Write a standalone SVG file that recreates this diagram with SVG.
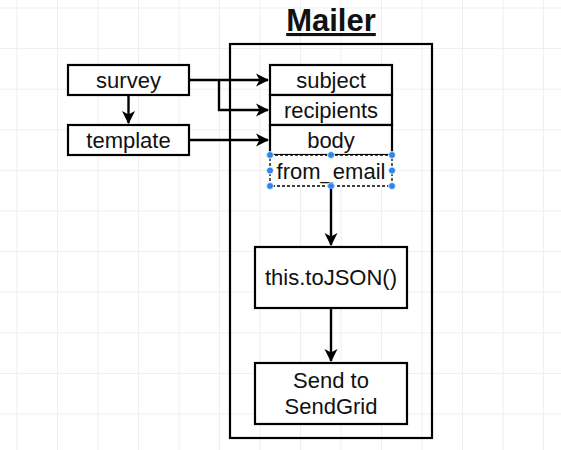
<svg xmlns="http://www.w3.org/2000/svg" width="561" height="450" viewBox="0 0 561 450">
<defs>
<marker id="ah" markerWidth="14" markerHeight="14" refX="12" refY="7" orient="auto" markerUnits="userSpaceOnUse">
<path d="M0,0.5 L13,7 L0,13.5 L3.5,7 Z" fill="#000"/>
</marker>
<style>
.grid{stroke:#efefef;stroke-width:1;fill:none}
.box{fill:#fff;stroke:#000;stroke-width:2.2}
.lbl{font-family:"Liberation Sans",Arial,sans-serif;font-size:22px;fill:#111;text-anchor:middle}
.edge{fill:none;stroke:#000;stroke-width:2.4}
.h{fill:#2b86f0;stroke:#fff;stroke-width:0.8}
</style>
</defs>
<rect width="561" height="450" fill="#fff"/>
<path class="grid" d="M17,0V450M57.5,0V450M98,0V450M138.5,0V450M179,0V450M219.5,0V450M260,0V450M300.5,0V450M341,0V450M381.5,0V450M422,0V450M462.5,0V450M503,0V450M543.5,0V450M0,8H561M0,48.6H561M0,89.2H561M0,129.8H561M0,170.4H561M0,211H561M0,251.6H561M0,292.2H561M0,332.8H561M0,373.4H561M0,414H561"/>
<g id="mailer">
<rect x="230" y="44" width="202" height="394" fill="none" stroke="#000" stroke-width="2.2"/>
<text x="331" y="31" font-family="'Liberation Sans',Arial,sans-serif" font-size="31" font-weight="bold" text-anchor="middle" text-decoration="underline" fill="#111">Mailer</text>
</g>
<g id="survey"><rect class="box" x="68" y="65" width="121" height="30"/><text class="lbl" x="128.5" y="88">survey</text></g>
<g id="template"><rect class="box" x="68" y="125" width="121" height="30"/><text class="lbl" x="128.5" y="148">template</text></g>
<g id="subject"><rect class="box" x="270" y="65" width="122" height="30"/><text class="lbl" x="331" y="88">subject</text></g>
<g id="recipients"><rect class="box" x="270" y="95" width="122" height="30"/><text class="lbl" x="331" y="118">recipients</text></g>
<g id="body"><rect class="box" x="270" y="125" width="122" height="30"/><text class="lbl" x="331" y="148">body</text></g>
<g id="from_email">
<rect x="270" y="155" width="122" height="31" fill="#fff" stroke="#000" stroke-width="1.3" stroke-dasharray="3,2"/>
<text class="lbl" x="331" y="178.5">from_email</text>
<circle class="h" cx="270" cy="155" r="3.5"/><circle class="h" cx="331" cy="155" r="3.5"/><circle class="h" cx="392" cy="155" r="3.5"/>
<circle class="h" cx="270" cy="170.5" r="3.5"/><circle class="h" cx="392" cy="170.5" r="3.5"/>
<circle class="h" cx="270" cy="186" r="3.5"/><circle class="h" cx="331" cy="186" r="3.5"/><circle class="h" cx="392" cy="186" r="3.5"/>
</g>
<g id="tojson"><rect class="box" x="255" y="247" width="152" height="61"/><text class="lbl" x="331" y="285">this.toJSON()</text></g>
<g id="sendgrid"><rect class="box" x="255" y="363" width="152" height="61"/><text class="lbl" x="331" y="388">Send to</text><text class="lbl" x="331" y="414">SendGrid</text></g>
<g id="connectors">
<path class="edge" d="M128.5,95V123" marker-end="url(#ah)"/>
<path class="edge" d="M189,80H268" marker-end="url(#ah)"/>
<path class="edge" d="M219,80V110H268" marker-end="url(#ah)"/>
<path class="edge" d="M189,140H268" marker-end="url(#ah)"/>
<path class="edge" d="M331,189V245" marker-end="url(#ah)"/>
<path class="edge" d="M331,308V361" marker-end="url(#ah)"/>
</g>
</svg>
